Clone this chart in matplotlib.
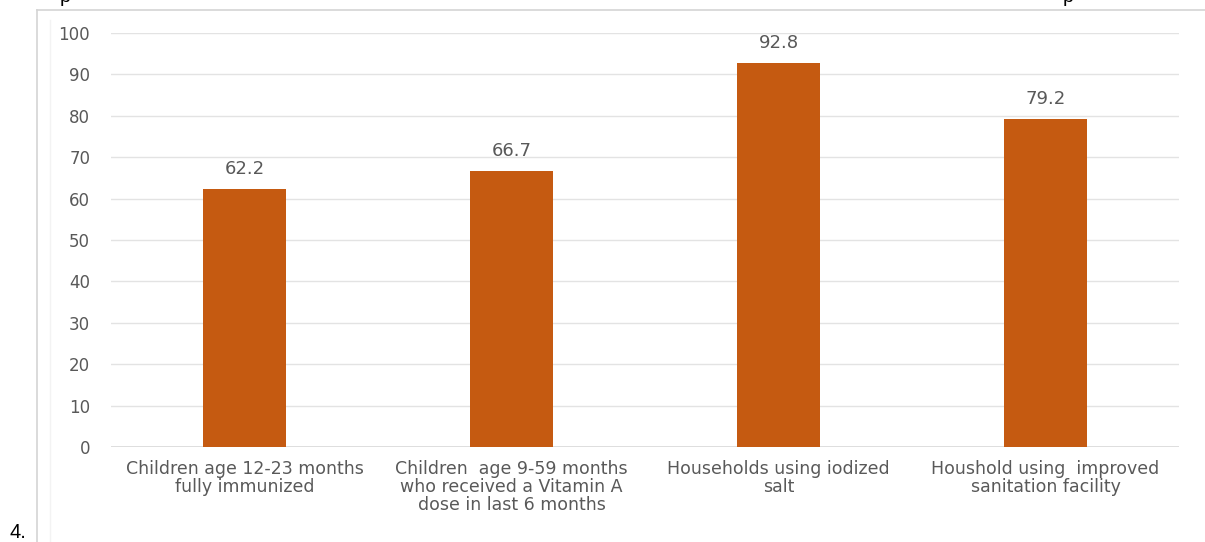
import matplotlib
matplotlib.use("Agg")
import matplotlib.pyplot as plt
from matplotlib.lines import Line2D

categories = [
    "Children age 12-23 months\nfully immunized",
    "Children  age 9-59 months\nwho received a Vitamin A\ndose in last 6 months",
    "Households using iodized\nsalt",
    "Houshold using  improved\nsanitation facility",
]
values = [62.2, 66.7, 92.8, 79.2]
yticks = [0, 10, 20, 30, 40, 50, 60, 70, 80, 90, 100]

W, H = 1205, 542
plt.rcParams["font.family"] = ["DejaVu Sans"]
fig = plt.figure(figsize=(W / 100, H / 100), dpi=100)
fig.patch.set_facecolor("white")

# plot area in pixel coordinates
left, right, top, bottom = 111, 1179, 33, 447
ax = fig.add_axes([left / W, 1 - bottom / H, (right - left) / W, (bottom - top) / H])

text_color = "#595959"
bar_color = "#C55A11"

x = list(range(len(values)))
ax.bar(x, values, width=0.31, color=bar_color, zorder=3)

ax.set_xlim(-0.5, len(values) - 0.5)
ax.set_ylim(0, 100)
ax.set_yticks(yticks)
ax.set_yticklabels([str(v) for v in yticks], fontsize=12, color=text_color)
ax.set_xticks(x)
ax.set_xticklabels(categories, fontsize=12.5, color=text_color, linespacing=1.0)
ax.tick_params(axis="both", length=0)
ax.tick_params(axis="y", pad=15)
ax.tick_params(axis="x", pad=9)

ax.grid(axis="y", color="#E3E3E3", linewidth=1.0, zorder=0)
for s in ax.spines.values():
    s.set_visible(False)
ax.axhline(0, color="#D9D9D9", linewidth=1.2, zorder=2)

for xi, v in zip(x, values):
    ax.annotate(f"{v:.1f}", (xi, v), xytext=(0, 8), textcoords="offset points",
                ha="center", va="bottom", fontsize=13, color=text_color)

# chart frame (top and left edges)
fig.add_artist(Line2D([37 / W, 1.0], [1 - 10 / H, 1 - 10 / H],
                      transform=fig.transFigure, color="#D4D4D4", linewidth=1.2))
fig.add_artist(Line2D([37 / W, 37 / W], [0.0, 1 - 10 / H],
                      transform=fig.transFigure, color="#D4D4D4", linewidth=1.2))
fig.add_artist(Line2D([50 / W, 50 / W], [0.0, 1 - 20 / H],
                      transform=fig.transFigure, color="#F3F3F3", linewidth=1.0))

# surrounding document text
fig.text(60 / W, 1 - 2 / H, "p", fontsize=14, color="black",
         family="Liberation Sans", ha="left", va="baseline")
fig.text(1063 / W, 1 - 2 / H, "p", fontsize=14, color="black",
         family="Liberation Sans", ha="left", va="baseline")
fig.text(9 / W, 1 - 538 / H, "4.", fontsize=14.5, color="black",
         family="Liberation Sans", ha="left", va="baseline")

fig.savefig("out.png", dpi=100, facecolor="white")
